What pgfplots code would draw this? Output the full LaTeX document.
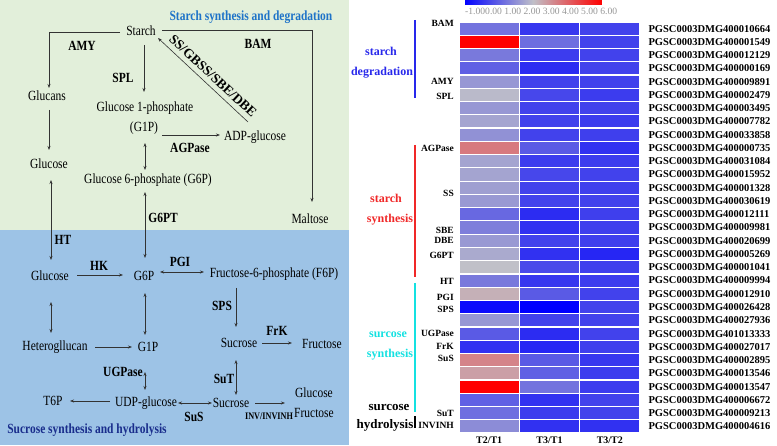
\documentclass[border=0pt]{standalone}
\usepackage{fontspec}
\setmainfont{Liberation Serif}
\newfontfamily\cond[FakeStretch=0.82]{Liberation Serif}
\usepackage{pgfplots}
\pgfplotsset{compat=1.18}
\usepackage{pgfplotstable}
\usetikzlibrary{arrows.meta}
\definecolor{bggreen}{RGB}{226,239,218}
\definecolor{bgblue}{RGB}{157,195,230}
\definecolor{ttlblue}{RGB}{30,115,200}
\definecolor{ttlnavy}{RGB}{25,45,140}
\definecolor{grpblue}{RGB}{40,40,235}
\definecolor{grpred}{RGB}{240,40,40}
\definecolor{grpcyan}{RGB}{20,225,225}
\definecolor{lblgray}{RGB}{150,150,150}
\newcommand\mt{\cond\fontsize{14}{16}\selectfont}
\newcommand\en{\cond\bfseries\fontsize{14}{16}\selectfont}
\newcommand\gl{\bfseries\fontsize{12}{14}\selectfont}

\pgfplotstableread{
x y c
0 1 1.1
1 1 0.0
2 1 0.2
0 2 6.0
1 2 1.0
2 2 0.2
0 3 1.2
1 3 0.1
2 3 0.2
0 4 0.75
1 4 -0.2
2 4 0.2
0 5 1.75
1 5 0.2
2 5 0.2
0 6 2.4
1 6 0.3
2 6 0.1
0 7 1.75
1 7 0.2
2 7 0.2
0 8 2.0
1 8 0.2
2 8 0.1
0 9 1.65
1 9 0.2
2 9 0.15
0 10 3.8
1 10 0.65
2 10 -0.1
0 11 2.0
1 11 0.1
2 11 0.1
0 12 2.0
1 12 0.3
2 12 0.2
0 13 1.9
1 13 0.2
2 13 0.15
0 14 1.8
1 14 0.2
2 14 0.2
0 15 0.9
1 15 -0.2
2 15 0.15
0 16 1.3
1 16 -0.1
2 16 0.15
0 17 1.8
1 17 0.2
2 17 0.15
0 18 2.1
1 18 -0.1
2 18 -0.3
0 19 2.5
1 19 0.35
2 19 0.15
0 20 1.2
1 20 0.0
2 20 0.1
0 21 2.8
1 21 0.65
2 21 0.2
0 22 -0.8
1 22 -1.0
2 22 0.2
0 23 1.75
1 23 0.2
2 23 0.2
0 24 0.65
1 24 -0.2
2 24 0.2
0 25 -0.1
1 25 -0.3
2 25 0.15
0 26 3.6
1 26 0.65
2 26 0.0
0 27 3.1
1 27 0.75
2 27 0.1
0 28 6.0
1 28 1.1
2 28 0.1
0 29 0.75
1 29 -0.1
2 29 0.2
0 30 1.0
1 30 0.1
2 30 0.2
0 31 1.55
1 31 -0.1
2 31 -0.1
}\heat

\begin{document}
\begin{tikzpicture}
\useasboundingbox (0,0) rectangle (777pt,445pt);
\begin{scope}[x=1pt,y=-1pt,shift={(0pt,445pt)}]
\fill[bggreen] (0,0) rectangle (349,230);
\fill[bgblue] (0,230) rectangle (349,445);
\begin{scope}[draw={black!80}, line width=0.6pt, >={Stealth[length=4pt,width=3pt]}]
\draw[->] (120,32.7) -- (49,32.7) -- (49,88);
\draw[->] (144,45) -- (144,92);
\draw[->] (162,135) -- (220,135);
\draw[->] (248,122) -- (158,38);
\draw[->] (162,30.7) -- (312,30.7) -- (312,202);
\draw[->] (49,110) -- (49,150);
\draw[<->] (145,143) -- (145,170);
\draw[<->] (145,192) -- (145,258);
\draw[<->] (51,180) -- (51,260);
\draw[->] (77,275) -- (123,275);
\draw[<->] (160,272) -- (204,272);
\draw[->] (236,288) -- (236,327);
\draw[->] (262,343) -- (292,343);
\draw[<->] (51,302) -- (51,333);
\draw[->] (95,347) -- (132,347);
\draw[<->] (145,293) -- (145,335);
\draw[<->] (145,372) -- (145,390);
\draw[->] (110,401) -- (70,401);
\draw[<->] (178,403) -- (212,403);
\draw[<->] (236,360) -- (236,395);
\draw[->] (255,403) -- (285,403);
\end{scope}
\begin{scope}[every node/.style={inner sep=0pt}]
\node[font=\mt] at (141,31) {Starch};
\node[font=\mt] at (47,96) {Glucans};
\node[font=\en] at (82,46) {AMY};
\node[font=\en] at (123,78) {SPL};
\node[font=\mt] at (145,108) {Glucose 1-phosphate};
\node[font=\mt] at (144,128) {(G1P)};
\node[font=\mt] at (255,137) {ADP-glucose};
\node[font=\en] at (190,148) {AGPase};
\node[font=\bfseries\fontsize{13.5}{15}\selectfont, rotate=-43] at (213,76) {SS/GBSS/SBE/DBE};
\node[font=\en] at (258,44) {BAM};
\node[font=\mt] at (310,219) {Maltose};
\node[font=\mt] at (148,180) {Glucose 6-phosphate (G6P)};
\node[font=\mt] at (49,164) {Glucose};
\node[font=\en] at (163,218) {G6PT};
\node[font=\en] at (63,240) {HT};
\node[font=\mt] at (50,276) {Glucose};
\node[font=\en] at (99,266) {HK};
\node[font=\mt] at (144,276) {G6P};
\node[font=\en] at (180,262) {PGI};
\node[font=\mt] at (274,274) {Fructose-6-phosphate (F6P)};
\node[font=\en] at (222,306) {SPS};
\node[font=\mt] at (239,343) {Sucrose};
\node[font=\en] at (277,331) {FrK};
\node[font=\mt] at (322,344) {Fructose};
\node[font=\mt] at (55,347) {Heterogllucan};
\node[font=\mt] at (148,347) {G1P};
\node[font=\en] at (123,372) {UGPase};
\node[font=\mt] at (146,403) {UDP-glucose};
\node[font=\mt] at (53,401) {T6P};
\node[font=\en] at (194,417) {SuS};
\node[font=\mt] at (231,403) {Sucrose};
\node[font=\en] at (224,379) {SuT};
\node[font=\cond\bfseries\fontsize{10}{12}\selectfont] at (269,416) {INV/INVINH};
\node[font=\mt] at (314,393) {Glucose};
\node[font=\mt] at (314,413) {Fructose};
\node[font=\en, text=ttlblue] at (251,17) {Starch synthesis and degradation};
\node[font=\en, text=ttlnavy] at (87,430) {Sucrose synthesis and hydrolysis};
% group labels
\node[font=\gl, text=grpblue, anchor=base] at (381,55.5) {starch};
\node[font=\gl, text=grpblue, anchor=base] at (382,75.5) {degradation};
\node[font=\gl, text=grpred, anchor=base] at (386,203) {starch};
\node[font=\gl, text=grpred, anchor=base] at (390,223) {synthesis};
\node[font=\gl, text=grpcyan, anchor=base] at (388,338) {surcose};
\node[font=\gl, text=grpcyan, anchor=base] at (390,357) {synthesis};
\node[font=\bfseries\fontsize{13}{15}\selectfont, anchor=base] at (389,410) {surcose};
\node[font=\bfseries\fontsize{13}{15}\selectfont, anchor=base] at (385,428) {hydrolysis};
\end{scope}
\draw[grpblue, line width=1.2pt] (415,20) -- (415,98);
\draw[grpred, line width=1.2pt] (415,145) -- (415,277);
\draw[grpcyan, line width=1.2pt] (415,283) -- (415,412);
\draw[black, line width=1.2pt] (415,416) -- (415,428);
\end{scope}

\begin{axis}[
  at={(459pt,12pt)}, anchor=south west,
  scale only axis, width=181pt, height=411pt,
  xmin=-0.5, xmax=2.5, ymin=0.5, ymax=31.5,
  y dir=reverse, enlargelimits=false, clip=false,
  axis line style={draw=none}, tick style={draw=none},
  xtick={0,1,2}, xticklabels={T2/T1,T3/T1,T3/T2},
  xticklabel style={font=\bfseries\fontsize{10}{12}\selectfont},
  ytick={1,...,31},
  yticklabels={PGSC0003DMG400010664,PGSC0003DMG400001549,PGSC0003DMG400012129,PGSC0003DMG400000169,PGSC0003DMG400009891,PGSC0003DMG400002479,PGSC0003DMG400003495,PGSC0003DMG400007782,PGSC0003DMG400033858,PGSC0003DMG400000735,PGSC0003DMG400031084,PGSC0003DMG400015952,PGSC0003DMG400001328,PGSC0003DMG400030619,PGSC0003DMG400012111,PGSC0003DMG400009981,PGSC0003DMG400020699,PGSC0003DMG400005269,PGSC0003DMG400001041,PGSC0003DMG400009994,PGSC0003DMG400012910,PGSC0003DMG400026428,PGSC0003DMG400027936,PGSC0003DMG401013333,PGSC0003DMG400027017,PGSC0003DMG400002895,PGSC0003DMG400013546,PGSC0003DMG400013547,PGSC0003DMG400006672,PGSC0003DMG400009213,PGSC0003DMG400004616},
  yticklabel pos=right,
  yticklabel style={font=\bfseries\fontsize{10.5}{12}\selectfont, anchor=west, xshift=5pt},
  colormap={bgr}{rgb255=(0,0,255) rgb255=(192,192,200) rgb255=(255,0,0)},
  point meta min=-1, point meta max=6,
  colorbar horizontal,
  colorbar style={at={(parent axis.north west)}, anchor=south west, xshift=5pt, yshift=26pt,
     scale only axis, width=138pt, height=6pt, xtick=\empty, ytick=\empty, axis line style={draw=none}},
]
\addplot[matrix plot*, mesh/cols=3, point meta=explicit, draw=white, line width=1.2pt] table[x=x, y=y, meta=c] {\heat};
\begin{scope}[every node/.style={anchor=east, xshift=-5pt, inner sep=0pt, font=\bfseries\fontsize{9.5}{11}\selectfont}]
\node at (axis cs:-0.5,0.6) {BAM};
\node at (axis cs:-0.5,5) {AMY};
\node at (axis cs:-0.5,6.1) {SPL};
\node at (axis cs:-0.5,10) {AGPase};
\node at (axis cs:-0.5,13.4) {SS};
\node at (axis cs:-0.5,16.2) {SBE};
\node at (axis cs:-0.5,17) {DBE};
\node at (axis cs:-0.5,18.1) {G6PT};
\node at (axis cs:-0.5,20.1) {HT};
\node at (axis cs:-0.5,21.3) {PGI};
\node at (axis cs:-0.5,22.2) {SPS};
\node at (axis cs:-0.5,24) {UGPase};
\node at (axis cs:-0.5,25) {FrK};
\node at (axis cs:-0.5,25.9) {SuS};
\node at (axis cs:-0.5,30) {SuT};
\node at (axis cs:-0.5,30.9) {INVINH};
\end{scope}
\end{axis}
\node[font=\fontsize{9.6}{11}\selectfont, text=lblgray, anchor=base west, inner sep=0pt] at (465pt,430.5pt) {-1.000.00 1.00 2.00 3.00 4.00 5.00 6.00};
\end{tikzpicture}
\end{document}
